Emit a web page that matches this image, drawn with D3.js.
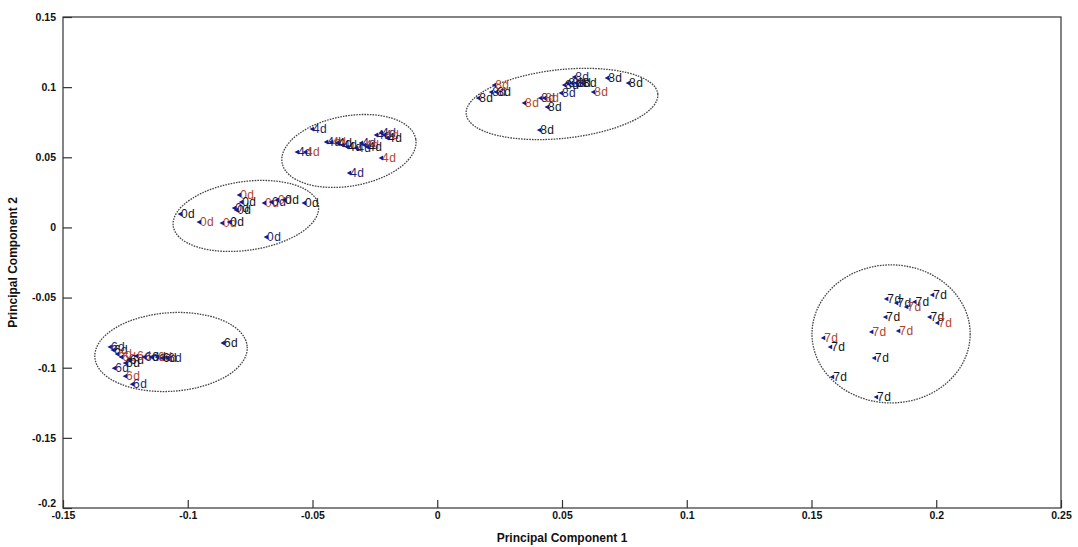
<!DOCTYPE html>
<html lang="en">
<head>
<meta charset="UTF-8">
<title>PCA scatter</title>
<script src="https://d3js.org/d3.v7.min.js"></script>
<style>
    body { margin: 0; background: #fff; }
    svg text { font-family: Arial, "Liberation Sans", sans-serif; }
</style>
</head>
<body>
<svg id="chart" width="1078" height="547"></svg>
<script>
// axis ticks
var xTicks = [-0.15, -0.1, -0.05, 0, 0.05, 0.1, 0.15, 0.2, 0.25];
var yTicks = [0.15, 0.1, 0.05, 0, -0.05, -0.1, -0.15, -0.2];

// points per class: [pc1, pc2, text colour key]
var class6 = [
    [-0.0855, -0.0824, 'k'], [-0.1308, -0.0852, 'n'], [-0.1296, -0.0874, 'k'],
    [-0.1279, -0.0903, 'r'], [-0.1263, -0.0924, 'r'], [-0.1231, -0.0945, 'k'],
    [-0.1203, -0.0917, 'r'], [-0.1171, -0.0924, 'n'], [-0.1143, -0.0924, 'k'],
    [-0.1119, -0.0924, 'r'], [-0.1099, -0.0931, 'k'], [-0.1079, -0.0931, 'n'],
    [-0.1291, -0.1003, 'n'], [-0.1247, -0.1060, 'r'], [-0.1219, -0.1117, 'n'],
    [-0.1247, -0.0967, 'k']
];
var class0 = [
    [-0.1027, 0.0095, 'k'], [-0.0951, 0.0038, 'r'], [-0.0859, 0.0031, 'r'],
    [-0.0830, 0.0038, 'k'], [-0.0810, 0.0138, 'n'], [-0.0802, 0.0124, 'k'],
    [-0.0790, 0.0231, 'r'], [-0.0782, 0.0181, 'k'], [-0.0690, 0.0174, 'r'],
    [-0.0662, 0.0181, 'n'], [-0.0638, 0.0195, 'r'], [-0.0610, 0.0195, 'k'],
    [-0.0530, 0.0174, 'k'], [-0.0682, -0.0069, 'n']
];
var class4 = [
    [-0.0498, 0.0701, 'n'], [-0.0558, 0.0537, 'n'], [-0.0526, 0.0537, 'r'],
    [-0.0441, 0.0609, 'n'], [-0.0421, 0.0609, 'r'], [-0.0397, 0.0602, 'k'],
    [-0.0377, 0.0587, 'n'], [-0.0357, 0.0573, 'k'], [-0.0321, 0.0566, 'n'],
    [-0.0301, 0.0602, 'n'], [-0.0289, 0.0587, 'r'], [-0.0277, 0.0573, 'k'],
    [-0.0241, 0.0659, 'n'], [-0.0221, 0.0673, 'n'], [-0.0209, 0.0659, 'r'],
    [-0.0197, 0.0637, 'k'], [-0.0221, 0.0495, 'r'], [-0.0349, 0.0388, 'n']
];
var class8 = [
    [0.0168, 0.0922, 'k'], [0.0220, 0.0965, 'n'], [0.0232, 0.1015, 'r'],
    [0.0240, 0.0965, 'k'], [0.0352, 0.0887, 'r'], [0.0417, 0.0922, 'n'],
    [0.0433, 0.0922, 'r'], [0.0444, 0.0858, 'k'], [0.0500, 0.0958, 'n'],
    [0.0513, 0.1015, 'k'], [0.0525, 0.1029, 'k'], [0.0541, 0.1029, 'n'],
    [0.0553, 0.1072, 'n'], [0.0561, 0.1029, 'k'], [0.0584, 0.1029, 'k'],
    [0.0629, 0.0965, 'r'], [0.0685, 0.1065, 'k'], [0.0769, 0.1029, 'k'],
    [0.0413, 0.0694, 'k']
];
var class7 = [
    [0.1804, -0.0510, 'k'], [0.1844, -0.0539, 'k'], [0.1884, -0.0567, 'r'],
    [0.1917, -0.0531, 'k'], [0.1988, -0.0481, 'k'], [0.1800, -0.0639, 'k'],
    [0.1977, -0.0639, 'k'], [0.2008, -0.0681, 'r'], [0.1744, -0.0745, 'r'],
    [0.1852, -0.0738, 'r'], [0.1551, -0.0788, 'r'], [0.1579, -0.0852, 'k'],
    [0.1755, -0.0931, 'k'], [0.1587, -0.1066, 'k'], [0.1763, -0.1209, 'k']
];

var classes = [
    { label: '6d', pts: class6 },
    { label: '0d', pts: class0 },
    { label: '4d', pts: class4 },
    { label: '8d', pts: class8 },
    { label: '7d', pts: class7 }
];

// cluster outlines: [cx, cy, rx, ry] in data units, tilt in degrees
var ellipses = [
    [-0.1067, -0.0888, 0.0306, 0.0280, -4],
    [-0.0767, 0.0082, 0.0294, 0.0245, -8],
    [-0.0354, 0.0545, 0.0272, 0.0250, -10],
    [0.0500, 0.0880, 0.0386, 0.0245, -6],
    [0.1819, -0.0759, 0.0317, 0.0492, 0]
];

var textColour = { k: '#151515', r: '#b4452a', n: '#1e1e70' };

var svg = d3.select('#chart'),
    margin = { top: 17, right: 17, bottom: 39, left: 63 },
    width = 1078 - margin.left - margin.right,
    height = 547 - margin.top - margin.bottom;

var x = d3.scaleLinear().domain([-0.15, 0.25]).range([0, width]);
var y = d3.scaleLinear().domain([-0.2, 0.15]).range([height, 0]);

var g = svg.append('g')
    .attr('transform', 'translate(' + margin.left + ',' + margin.top + ')');

// frame
g.append('rect')
    .attr('width', width)
    .attr('height', height)
    .attr('fill', 'none')
    .attr('stroke', '#333')
    .attr('stroke-width', 1.2);

// axes with inward ticks
var fmt = function(d) { return String(+d.toFixed(2)); };
var xAxis = d3.axisBottom(x).tickValues(xTicks).tickSize(-8).tickPadding(4).tickFormat(fmt);
var yAxis = d3.axisLeft(y).tickValues(yTicks).tickSize(-9).tickPadding(7).tickFormat(fmt);

var gx = g.append('g').attr('transform', 'translate(0,' + height + ')').call(xAxis);
var gy = g.append('g').call(yAxis);

[gx, gy].forEach(function(ax) {
    ax.select('.domain').remove();
    ax.selectAll('.tick line').attr('stroke', '#333').attr('stroke-width', 1.2);
    ax.selectAll('.tick text')
        .attr('fill', '#111')
        .style('font-size', '10.5px')
        .style('font-weight', 'bold');
});
// bottom y label sits a bit higher, as in the original
gy.selectAll('.tick text').filter(function(d) { return d === -0.2; }).attr('dy', '-0.1em');

// axis titles
g.append('text')
    .attr('x', width / 2)
    .attr('y', height + 34)
    .attr('text-anchor', 'middle')
    .style('font-size', '12px')
    .style('font-weight', 'bold')
    .attr('fill', '#111')
    .text('Principal Component 1');

g.append('text')
    .attr('transform', 'translate(' + (-46) + ',' + (height / 2) + ') rotate(-90)')
    .attr('text-anchor', 'middle')
    .style('font-size', '12px')
    .style('font-weight', 'bold')
    .attr('fill', '#111')
    .text('Principal Component 2');

// dotted ellipses around each cluster
g.selectAll('.cluster')
    .data(ellipses)
    .enter().append('ellipse')
    .attr('class', 'cluster')
    .attr('cx', function(d) { return x(d[0]); })
    .attr('cy', function(d) { return y(d[1]); })
    .attr('rx', function(d) { return x(d[2]) - x(0); })
    .attr('ry', function(d) { return y(0) - y(d[3]); })
    .attr('transform', function(d) {
        return 'rotate(' + d[4] + ',' + x(d[0]) + ',' + y(d[1]) + ')';
    })
    .attr('fill', 'none')
    .attr('stroke', '#444')
    .attr('stroke-width', 1.3)
    .attr('stroke-dasharray', '1.6,1.1');

// labelled points
classes.forEach(function(c) {
    var grp = g.append('g');
    var pt = grp.selectAll('g')
        .data(c.pts)
        .enter().append('g')
        .attr('transform', function(d) { return 'translate(' + x(d[0]) + ',' + y(d[1]) + ')'; });

    pt.append('text')
        .attr('x', 0)
        .attr('dy', '0.36em')
        .style('font-size', '12px')
        .style('letter-spacing', '0.4px')
        .attr('fill', function(d) { return textColour[d[2]]; })
        .text(c.label);

    pt.append('path')
        .attr('d', 'M-3.5,0 L1,-2.4 L1,2.4 Z')
        .attr('fill', '#1a1a8a');
});
</script>
</body>
</html>
